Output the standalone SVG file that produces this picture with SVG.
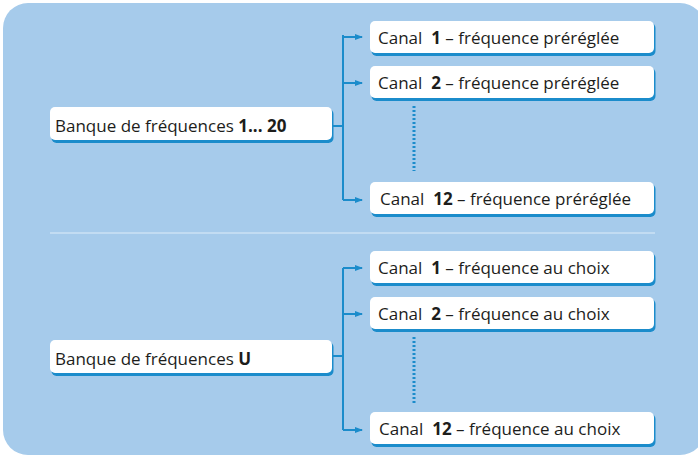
<svg xmlns="http://www.w3.org/2000/svg" width="698" height="457" viewBox="0 0 698 457">
<style>
.bg{fill:#a6cbeb}
.sh{fill:#1b8ccb}
.bx{fill:#ffffff}
.t{font-family:"Open Sans","Noto Sans","Liberation Sans",sans-serif;font-size:17px;fill:#1d1d1b;white-space:pre}
.b{font-weight:bold}
.ln{fill:none;stroke:#1b8ccb;stroke-width:2}
.dot{fill:none;stroke:#1b8ccb;stroke-width:3;stroke-dasharray:2 2}
.sep{stroke:#c2dcf2;stroke-width:2}
</style>
<defs>
<marker id="ah" markerWidth="8" markerHeight="6" refX="7" refY="3" orient="auto" markerUnits="userSpaceOnUse">
<path d="M0,0 L8,3 L0,6 Z" fill="#1b8ccb"/>
</marker>
</defs>
<rect class="bg" x="3" y="3" width="702" height="452" rx="25"/>
<line class="sep" x1="50" y1="233" x2="655" y2="233"/>
<g id="connectors">
<path class="ln" d="M333,126 H343 M343,35 V200"/>
<path class="ln" d="M343,37 H362" marker-end="url(#ah)"/>
<path class="ln" d="M343,83 H362" marker-end="url(#ah)"/>
<path class="ln" d="M343,200 H362" marker-end="url(#ah)"/>
<path class="dot" d="M414,106 V171"/>
<path class="ln" d="M333,356 H343 M343,268 V430"/>
<path class="ln" d="M343,268 H362" marker-end="url(#ah)"/>
<path class="ln" d="M343,314 H362" marker-end="url(#ah)"/>
<path class="ln" d="M343,430 H362" marker-end="url(#ah)"/>
<path class="dot" d="M414,337 V403"/>
</g>
<g id="bank1">
<rect class="sh" x="51.5" y="109" width="282" height="34" rx="5"/>
<rect class="bx" x="50" y="107" width="282" height="33" rx="5"/>
<text class="t" x="55" y="132">Banque de fréquences <tspan class="b">1... 20</tspan></text>
</g>
<g id="b1c1">
<rect class="sh" x="371.5" y="23" width="284" height="33" rx="5"/>
<rect class="bx" x="370" y="21" width="284" height="32" rx="5"/>
<text class="t" x="378" y="44">Canal  <tspan class="b">1</tspan> – fréquence préréglée</text>
</g>
<g id="b1c2">
<rect class="sh" x="371.5" y="68" width="284" height="33" rx="5"/>
<rect class="bx" x="370" y="66" width="284" height="32" rx="5"/>
<text class="t" x="378" y="89">Canal  <tspan class="b">2</tspan> – fréquence préréglée</text>
</g>
<g id="b1c12">
<rect class="sh" x="371.5" y="184" width="284" height="33" rx="5"/>
<rect class="bx" x="370" y="182" width="284" height="32" rx="5"/>
<text class="t" x="380" y="205">Canal  <tspan class="b">12</tspan> – fréquence préréglée</text>
</g>
<g id="bankU">
<rect class="sh" x="51.5" y="342" width="282" height="34" rx="5"/>
<rect class="bx" x="50" y="340" width="282" height="33" rx="5"/>
<text class="t" x="55" y="365">Banque de fréquences <tspan class="b">U</tspan></text>
</g>
<g id="bUc1">
<rect class="sh" x="371.5" y="253" width="284" height="33" rx="5"/>
<rect class="bx" x="370" y="251" width="284" height="32" rx="5"/>
<text class="t" x="378" y="274">Canal  <tspan class="b">1</tspan> – fréquence au choix</text>
</g>
<g id="bUc2">
<rect class="sh" x="371.5" y="299" width="284" height="33" rx="5"/>
<rect class="bx" x="370" y="297" width="284" height="32" rx="5"/>
<text class="t" x="378" y="320">Canal  <tspan class="b">2</tspan> – fréquence au choix</text>
</g>
<g id="bUc12">
<rect class="sh" x="371.5" y="414" width="284" height="33" rx="5"/>
<rect class="bx" x="370" y="412" width="284" height="32" rx="5"/>
<text class="t" x="379" y="435">Canal  <tspan class="b">12</tspan> – fréquence au choix</text>
</g>
</svg>
